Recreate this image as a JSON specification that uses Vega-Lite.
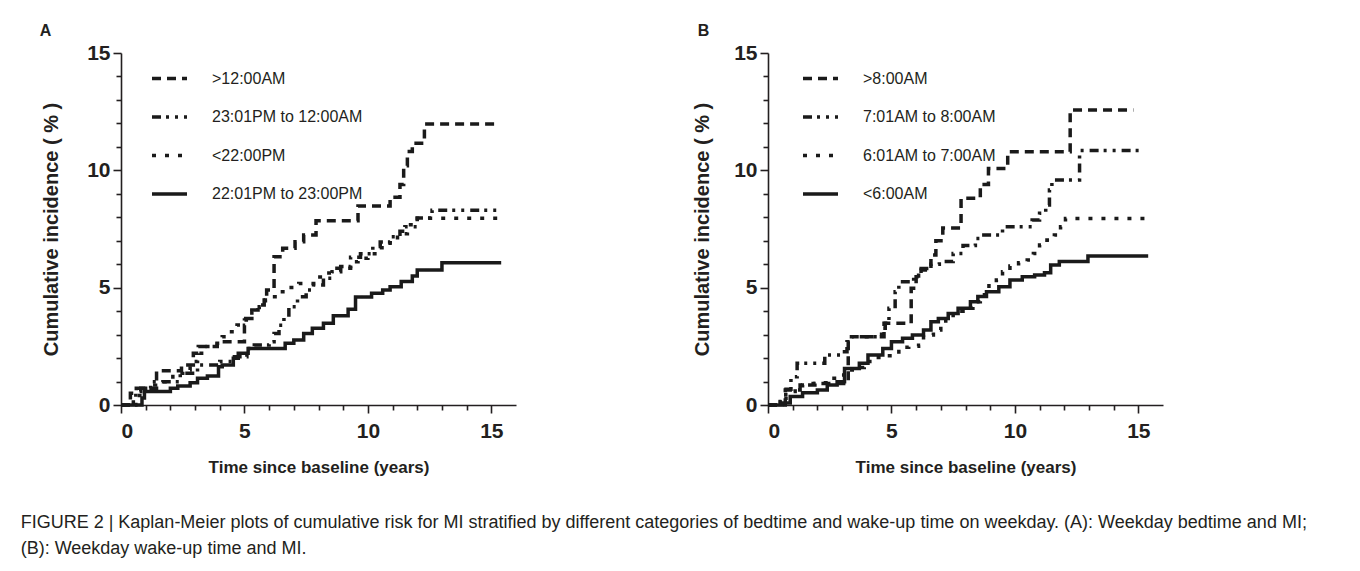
{
  "$schema": "https://vega.github.io/schema/vega-lite/v6.json",
  "background": "white",
  "padding": {"left": 20, "top": 22, "right": 0, "bottom": 0},
  "config": {
    "font": "Liberation Sans",
    "view": {"stroke": null},
    "axis": {
      "grid": false,
      "domainColor": "#231f20", "domainWidth": 1.6,
      "tickColor": "#231f20", "tickWidth": 1.6,
      "labelColor": "#231f20", "titleColor": "#231f20",
      "labelFont": "Liberation Sans", "labelFontWeight": "bold", "labelFontSize": 21,
      "titleFont": "Liberation Sans", "titleFontWeight": "bold", "titleFontSize": 17
    },
    "legend": {
      "orient": "none", "legendX": 29, "legendY": 6, "title": null,
      "symbolType": "stroke", "symbolSize": 1225, "symbolStrokeWidth": 3.5,
      "symbolStrokeColor": "#1a1a1a", "symbolOffset": 0,
      "labelFont": "Liberation Sans", "labelFontSize": 16, "labelColor": "#231f20",
      "labelOffset": 23, "rowPadding": 10.5, "padding": 0
    }
  },
  "title": {
    "text": [
      "FIGURE 2 | Kaplan-Meier plots of cumulative risk for MI stratified by different categories of bedtime and wake-up time on weekday. (A): Weekday bedtime and MI;",
      "(B): Weekday wake-up time and MI."
    ],
    "orient": "bottom", "anchor": "start", "frame": "bounds", "dx": -19, "offset": 39,
    "font": "Liberation Sans", "fontSize": 18, "fontWeight": "normal", "lineHeight": 26, "color": "#231f20"
  },
  "datasets": {
    "A": [
      {"g": ">12:00AM", "t": 0, "v": 0}, {"g": ">12:00AM", "t": 0.38, "v": 0.5}, {"g": ">12:00AM", "t": 0.62, "v": 0.71}, {"g": ">12:00AM", "t": 1.44, "v": 1.46}, {"g": ">12:00AM", "t": 2.45, "v": 1.7}, {"g": ">12:00AM", "t": 2.93, "v": 2.2}, {"g": ">12:00AM", "t": 3.13, "v": 2.49}, {"g": ">12:00AM", "t": 3.9, "v": 2.7}, {"g": ">12:00AM", "t": 5.0, "v": 3.4}, {"g": ">12:00AM", "t": 5.05, "v": 3.69}, {"g": ">12:00AM", "t": 5.3, "v": 4.05}, {"g": ">12:00AM", "t": 5.55, "v": 4.26}, {"g": ">12:00AM", "t": 5.8, "v": 4.47}, {"g": ">12:00AM", "t": 5.9, "v": 4.9}, {"g": ">12:00AM", "t": 6.2, "v": 6.32}, {"g": ">12:00AM", "t": 6.55, "v": 6.68}, {"g": ">12:00AM", "t": 7.05, "v": 6.96}, {"g": ">12:00AM", "t": 7.4, "v": 7.24}, {"g": ">12:00AM", "t": 7.9, "v": 7.85}, {"g": ">12:00AM", "t": 9.6, "v": 8.48}, {"g": ">12:00AM", "t": 10.9, "v": 8.85}, {"g": ">12:00AM", "t": 11.3, "v": 9.4}, {"g": ">12:00AM", "t": 11.45, "v": 10.2}, {"g": ">12:00AM", "t": 11.6, "v": 10.8}, {"g": ">12:00AM", "t": 11.8, "v": 11.15}, {"g": ">12:00AM", "t": 12.29, "v": 11.97}, {"g": ">12:00AM", "t": 15.25, "v": 11.97},
      {"g": "23:01PM to 12:00AM", "t": 0, "v": 0}, {"g": "23:01PM to 12:00AM", "t": 0.6, "v": 0.57}, {"g": "23:01PM to 12:00AM", "t": 0.8, "v": 0.71}, {"g": "23:01PM to 12:00AM", "t": 1.2, "v": 0.99}, {"g": "23:01PM to 12:00AM", "t": 2.4, "v": 1.35}, {"g": "23:01PM to 12:00AM", "t": 3.1, "v": 1.7}, {"g": "23:01PM to 12:00AM", "t": 4.0, "v": 1.85}, {"g": "23:01PM to 12:00AM", "t": 4.5, "v": 2.06}, {"g": "23:01PM to 12:00AM", "t": 5.1, "v": 2.41}, {"g": "23:01PM to 12:00AM", "t": 5.4, "v": 2.56}, {"g": "23:01PM to 12:00AM", "t": 6.0, "v": 2.7}, {"g": "23:01PM to 12:00AM", "t": 6.2, "v": 3.05}, {"g": "23:01PM to 12:00AM", "t": 6.4, "v": 3.4}, {"g": "23:01PM to 12:00AM", "t": 6.6, "v": 3.83}, {"g": "23:01PM to 12:00AM", "t": 6.8, "v": 4.19}, {"g": "23:01PM to 12:00AM", "t": 7.15, "v": 4.61}, {"g": "23:01PM to 12:00AM", "t": 7.5, "v": 4.9}, {"g": "23:01PM to 12:00AM", "t": 7.8, "v": 5.11}, {"g": "23:01PM to 12:00AM", "t": 8.2, "v": 5.4}, {"g": "23:01PM to 12:00AM", "t": 8.55, "v": 5.68}, {"g": "23:01PM to 12:00AM", "t": 8.9, "v": 5.9}, {"g": "23:01PM to 12:00AM", "t": 9.3, "v": 6.3}, {"g": "23:01PM to 12:00AM", "t": 9.7, "v": 6.45}, {"g": "23:01PM to 12:00AM", "t": 10.2, "v": 6.75}, {"g": "23:01PM to 12:00AM", "t": 10.5, "v": 6.95}, {"g": "23:01PM to 12:00AM", "t": 10.9, "v": 7.17}, {"g": "23:01PM to 12:00AM", "t": 11.3, "v": 7.4}, {"g": "23:01PM to 12:00AM", "t": 11.5, "v": 7.6}, {"g": "23:01PM to 12:00AM", "t": 12.0, "v": 7.97}, {"g": "23:01PM to 12:00AM", "t": 12.6, "v": 8.3}, {"g": "23:01PM to 12:00AM", "t": 15.4, "v": 8.3},
      {"g": "<22:00PM", "t": 0, "v": 0}, {"g": "<22:00PM", "t": 0.5, "v": 0.4}, {"g": "<22:00PM", "t": 0.85, "v": 0.71}, {"g": "<22:00PM", "t": 1.1, "v": 0.85}, {"g": "<22:00PM", "t": 1.4, "v": 0.92}, {"g": "<22:00PM", "t": 1.7, "v": 0.99}, {"g": "<22:00PM", "t": 2.1, "v": 1.35}, {"g": "<22:00PM", "t": 2.5, "v": 1.49}, {"g": "<22:00PM", "t": 2.8, "v": 1.85}, {"g": "<22:00PM", "t": 3.1, "v": 2.2}, {"g": "<22:00PM", "t": 3.4, "v": 2.49}, {"g": "<22:00PM", "t": 3.8, "v": 2.63}, {"g": "<22:00PM", "t": 4.1, "v": 2.91}, {"g": "<22:00PM", "t": 4.4, "v": 3.12}, {"g": "<22:00PM", "t": 4.7, "v": 3.41}, {"g": "<22:00PM", "t": 5.0, "v": 3.62}, {"g": "<22:00PM", "t": 5.3, "v": 3.98}, {"g": "<22:00PM", "t": 5.6, "v": 4.19}, {"g": "<22:00PM", "t": 5.85, "v": 4.47}, {"g": "<22:00PM", "t": 6.1, "v": 4.61}, {"g": "<22:00PM", "t": 6.4, "v": 4.83}, {"g": "<22:00PM", "t": 6.8, "v": 5.01}, {"g": "<22:00PM", "t": 7.2, "v": 5.18}, {"g": "<22:00PM", "t": 7.9, "v": 5.45}, {"g": "<22:00PM", "t": 8.3, "v": 5.62}, {"g": "<22:00PM", "t": 8.6, "v": 5.83}, {"g": "<22:00PM", "t": 9.3, "v": 6.1}, {"g": "<22:00PM", "t": 9.6, "v": 6.25}, {"g": "<22:00PM", "t": 10.0, "v": 6.45}, {"g": "<22:00PM", "t": 10.4, "v": 6.7}, {"g": "<22:00PM", "t": 10.9, "v": 7.0}, {"g": "<22:00PM", "t": 11.2, "v": 7.3}, {"g": "<22:00PM", "t": 11.6, "v": 7.68}, {"g": "<22:00PM", "t": 12.0, "v": 7.96}, {"g": "<22:00PM", "t": 15.3, "v": 7.96},
      {"g": "22:01PM to 23:00PM", "t": 0, "v": 0}, {"g": "22:01PM to 23:00PM", "t": 0.85, "v": 0.3}, {"g": "22:01PM to 23:00PM", "t": 0.95, "v": 0.57}, {"g": "22:01PM to 23:00PM", "t": 2.0, "v": 0.71}, {"g": "22:01PM to 23:00PM", "t": 2.3, "v": 0.81}, {"g": "22:01PM to 23:00PM", "t": 2.8, "v": 0.95}, {"g": "22:01PM to 23:00PM", "t": 3.1, "v": 1.14}, {"g": "22:01PM to 23:00PM", "t": 3.5, "v": 1.24}, {"g": "22:01PM to 23:00PM", "t": 3.95, "v": 1.63}, {"g": "22:01PM to 23:00PM", "t": 4.1, "v": 1.7}, {"g": "22:01PM to 23:00PM", "t": 4.55, "v": 1.99}, {"g": "22:01PM to 23:00PM", "t": 4.75, "v": 2.2}, {"g": "22:01PM to 23:00PM", "t": 5.15, "v": 2.41}, {"g": "22:01PM to 23:00PM", "t": 6.65, "v": 2.63}, {"g": "22:01PM to 23:00PM", "t": 7.0, "v": 2.77}, {"g": "22:01PM to 23:00PM", "t": 7.4, "v": 3.05}, {"g": "22:01PM to 23:00PM", "t": 7.75, "v": 3.27}, {"g": "22:01PM to 23:00PM", "t": 8.2, "v": 3.48}, {"g": "22:01PM to 23:00PM", "t": 8.6, "v": 3.8}, {"g": "22:01PM to 23:00PM", "t": 9.2, "v": 4.08}, {"g": "22:01PM to 23:00PM", "t": 9.5, "v": 4.6}, {"g": "22:01PM to 23:00PM", "t": 10.15, "v": 4.76}, {"g": "22:01PM to 23:00PM", "t": 10.6, "v": 4.9}, {"g": "22:01PM to 23:00PM", "t": 10.9, "v": 5.04}, {"g": "22:01PM to 23:00PM", "t": 11.35, "v": 5.26}, {"g": "22:01PM to 23:00PM", "t": 11.8, "v": 5.5}, {"g": "22:01PM to 23:00PM", "t": 12.0, "v": 5.75}, {"g": "22:01PM to 23:00PM", "t": 13.0, "v": 6.06}, {"g": "22:01PM to 23:00PM", "t": 15.4, "v": 6.06}
    ],
    "B": [
      {"g": ">8:00AM", "t": 0, "v": 0}, {"g": ">8:00AM", "t": 0.7, "v": 0.64}, {"g": ">8:00AM", "t": 1.3, "v": 0.85}, {"g": ">8:00AM", "t": 1.9, "v": 0.92}, {"g": ">8:00AM", "t": 3.25, "v": 2.91}, {"g": ">8:00AM", "t": 4.7, "v": 3.48}, {"g": ">8:00AM", "t": 5.8, "v": 4.97}, {"g": ">8:00AM", "t": 6.0, "v": 5.47}, {"g": ">8:00AM", "t": 6.2, "v": 5.75}, {"g": ">8:00AM", "t": 6.6, "v": 6.39}, {"g": ">8:00AM", "t": 6.8, "v": 7.0}, {"g": ">8:00AM", "t": 7.08, "v": 7.54}, {"g": ">8:00AM", "t": 7.82, "v": 8.81}, {"g": ">8:00AM", "t": 8.6, "v": 9.4}, {"g": ">8:00AM", "t": 8.93, "v": 10.08}, {"g": ">8:00AM", "t": 9.71, "v": 10.79}, {"g": ">8:00AM", "t": 12.24, "v": 12.57}, {"g": ">8:00AM", "t": 14.8, "v": 12.57},
      {"g": "7:01AM to 8:00AM", "t": 0, "v": 0}, {"g": "7:01AM to 8:00AM", "t": 0.4, "v": 0.15}, {"g": "7:01AM to 8:00AM", "t": 0.73, "v": 0.67}, {"g": "7:01AM to 8:00AM", "t": 0.93, "v": 1.2}, {"g": "7:01AM to 8:00AM", "t": 1.18, "v": 1.78}, {"g": "7:01AM to 8:00AM", "t": 2.3, "v": 2.13}, {"g": "7:01AM to 8:00AM", "t": 2.95, "v": 2.27}, {"g": "7:01AM to 8:00AM", "t": 3.2, "v": 2.7}, {"g": "7:01AM to 8:00AM", "t": 3.4, "v": 2.91}, {"g": "7:01AM to 8:00AM", "t": 4.6, "v": 3.27}, {"g": "7:01AM to 8:00AM", "t": 4.75, "v": 3.48}, {"g": "7:01AM to 8:00AM", "t": 4.9, "v": 4.12}, {"g": "7:01AM to 8:00AM", "t": 5.15, "v": 4.83}, {"g": "7:01AM to 8:00AM", "t": 5.3, "v": 5.25}, {"g": "7:01AM to 8:00AM", "t": 5.9, "v": 5.5}, {"g": "7:01AM to 8:00AM", "t": 6.1, "v": 5.82}, {"g": "7:01AM to 8:00AM", "t": 6.6, "v": 6.0}, {"g": "7:01AM to 8:00AM", "t": 6.94, "v": 6.11}, {"g": "7:01AM to 8:00AM", "t": 7.5, "v": 6.46}, {"g": "7:01AM to 8:00AM", "t": 7.9, "v": 6.8}, {"g": "7:01AM to 8:00AM", "t": 8.4, "v": 7.1}, {"g": "7:01AM to 8:00AM", "t": 8.6, "v": 7.24}, {"g": "7:01AM to 8:00AM", "t": 9.5, "v": 7.6}, {"g": "7:01AM to 8:00AM", "t": 10.7, "v": 7.88}, {"g": "7:01AM to 8:00AM", "t": 11.0, "v": 8.17}, {"g": "7:01AM to 8:00AM", "t": 11.25, "v": 8.52}, {"g": "7:01AM to 8:00AM", "t": 11.4, "v": 9.16}, {"g": "7:01AM to 8:00AM", "t": 11.5, "v": 9.59}, {"g": "7:01AM to 8:00AM", "t": 12.62, "v": 10.84}, {"g": "7:01AM to 8:00AM", "t": 15.2, "v": 10.84},
      {"g": "6:01AM to 7:00AM", "t": 0, "v": 0}, {"g": "6:01AM to 7:00AM", "t": 0.5, "v": 0.21}, {"g": "6:01AM to 7:00AM", "t": 0.72, "v": 0.57}, {"g": "6:01AM to 7:00AM", "t": 1.1, "v": 0.71}, {"g": "6:01AM to 7:00AM", "t": 1.4, "v": 0.85}, {"g": "6:01AM to 7:00AM", "t": 1.7, "v": 0.92}, {"g": "6:01AM to 7:00AM", "t": 2.1, "v": 0.95}, {"g": "6:01AM to 7:00AM", "t": 2.5, "v": 1.14}, {"g": "6:01AM to 7:00AM", "t": 2.9, "v": 1.28}, {"g": "6:01AM to 7:00AM", "t": 3.2, "v": 1.49}, {"g": "6:01AM to 7:00AM", "t": 3.6, "v": 1.6}, {"g": "6:01AM to 7:00AM", "t": 3.9, "v": 1.85}, {"g": "6:01AM to 7:00AM", "t": 4.2, "v": 2.02}, {"g": "6:01AM to 7:00AM", "t": 4.6, "v": 2.1}, {"g": "6:01AM to 7:00AM", "t": 5.3, "v": 2.46}, {"g": "6:01AM to 7:00AM", "t": 5.7, "v": 2.5}, {"g": "6:01AM to 7:00AM", "t": 6.1, "v": 2.55}, {"g": "6:01AM to 7:00AM", "t": 6.3, "v": 2.98}, {"g": "6:01AM to 7:00AM", "t": 6.7, "v": 3.2}, {"g": "6:01AM to 7:00AM", "t": 7.0, "v": 3.37}, {"g": "6:01AM to 7:00AM", "t": 7.2, "v": 3.69}, {"g": "6:01AM to 7:00AM", "t": 7.5, "v": 4.0}, {"g": "6:01AM to 7:00AM", "t": 7.9, "v": 4.12}, {"g": "6:01AM to 7:00AM", "t": 8.3, "v": 4.4}, {"g": "6:01AM to 7:00AM", "t": 8.6, "v": 4.7}, {"g": "6:01AM to 7:00AM", "t": 8.8, "v": 4.9}, {"g": "6:01AM to 7:00AM", "t": 8.95, "v": 5.16}, {"g": "6:01AM to 7:00AM", "t": 9.25, "v": 5.33}, {"g": "6:01AM to 7:00AM", "t": 9.5, "v": 5.68}, {"g": "6:01AM to 7:00AM", "t": 9.8, "v": 5.92}, {"g": "6:01AM to 7:00AM", "t": 10.15, "v": 6.06}, {"g": "6:01AM to 7:00AM", "t": 10.5, "v": 6.18}, {"g": "6:01AM to 7:00AM", "t": 10.75, "v": 6.46}, {"g": "6:01AM to 7:00AM", "t": 11.0, "v": 6.82}, {"g": "6:01AM to 7:00AM", "t": 11.3, "v": 7.03}, {"g": "6:01AM to 7:00AM", "t": 11.6, "v": 7.24}, {"g": "6:01AM to 7:00AM", "t": 11.85, "v": 7.6}, {"g": "6:01AM to 7:00AM", "t": 12.05, "v": 7.95}, {"g": "6:01AM to 7:00AM", "t": 15.3, "v": 7.95},
      {"g": "<6:00AM", "t": 0, "v": 0}, {"g": "<6:00AM", "t": 0.55, "v": 0.08}, {"g": "<6:00AM", "t": 0.9, "v": 0.36}, {"g": "<6:00AM", "t": 1.4, "v": 0.52}, {"g": "<6:00AM", "t": 2.0, "v": 0.64}, {"g": "<6:00AM", "t": 2.4, "v": 0.85}, {"g": "<6:00AM", "t": 2.8, "v": 0.99}, {"g": "<6:00AM", "t": 3.1, "v": 1.56}, {"g": "<6:00AM", "t": 3.7, "v": 1.78}, {"g": "<6:00AM", "t": 4.05, "v": 2.13}, {"g": "<6:00AM", "t": 4.65, "v": 2.41}, {"g": "<6:00AM", "t": 5.0, "v": 2.7}, {"g": "<6:00AM", "t": 5.45, "v": 2.84}, {"g": "<6:00AM", "t": 5.85, "v": 2.98}, {"g": "<6:00AM", "t": 6.3, "v": 3.2}, {"g": "<6:00AM", "t": 6.6, "v": 3.55}, {"g": "<6:00AM", "t": 6.9, "v": 3.69}, {"g": "<6:00AM", "t": 7.3, "v": 3.9}, {"g": "<6:00AM", "t": 7.7, "v": 4.12}, {"g": "<6:00AM", "t": 8.2, "v": 4.4}, {"g": "<6:00AM", "t": 8.5, "v": 4.62}, {"g": "<6:00AM", "t": 8.85, "v": 4.83}, {"g": "<6:00AM", "t": 9.35, "v": 5.04}, {"g": "<6:00AM", "t": 9.8, "v": 5.33}, {"g": "<6:00AM", "t": 10.3, "v": 5.47}, {"g": "<6:00AM", "t": 10.8, "v": 5.54}, {"g": "<6:00AM", "t": 11.2, "v": 5.64}, {"g": "<6:00AM", "t": 11.45, "v": 5.97}, {"g": "<6:00AM", "t": 11.8, "v": 6.11}, {"g": "<6:00AM", "t": 12.96, "v": 6.35}, {"g": "<6:00AM", "t": 15.4, "v": 6.35}
    ]
  },
  "hconcat": [
    {
      "width": 395, "height": 352,
      "title": {"text": "A", "anchor": "start", "frame": "bounds", "dx": -2, "offset": -9.5, "baseline": "alphabetic", "font": "Liberation Sans", "fontSize": 16, "fontWeight": "bold", "color": "#231f20"},
      "data": {"name": "A"},
      "resolve": {"axis": {"x": "independent", "y": "independent"}},
      "layer": [
        {
          "mark": {"type": "line", "interpolate": "step-after", "strokeWidth": 3.5, "color": "#1a1a1a", "strokeCap": "butt"},
          "encoding": {
            "x": {"field": "t", "type": "quantitative", "scale": {"domain": [0, 16], "nice": false, "zero": true},
                  "axis": {"orient": "bottom", "values": [0, 5, 10, 15], "tickSize": 8, "labelPadding": 7, "title": "Time since baseline (years)", "titlePadding": 18}},
            "y": {"field": "v", "type": "quantitative", "scale": {"domain": [0, 15], "nice": false},
                  "axis": {"orient": "left", "values": [0, 5, 10, 15], "tickSize": 8, "labelPadding": 3, "title": "Cumulative incidence ( % )", "titleFontSize": 20, "titlePadding": 25}},
            "strokeDash": {"field": "g", "type": "nominal",
                  "scale": {"domain": [">12:00AM", "23:01PM to 12:00AM", "<22:00PM", "22:01PM to 23:00PM"], "range": [[9, 6], [9, 5, 3, 6, 3, 6], [4, 9], [1, 0]]}}
          }
        },
        {
          "mark": {"type": "point", "opacity": 0},
          "encoding": {
            "x": {"field": "t", "type": "quantitative", "axis": {"orient": "bottom", "values": [1, 2, 3, 4, 6, 7, 8, 9, 11, 12, 13, 14], "tickSize": 5, "labels": false, "domain": false, "title": null}},
            "y": {"field": "v", "type": "quantitative", "axis": {"orient": "left", "values": [1, 2, 3, 4, 6, 7, 8, 9, 11, 12, 13, 14], "tickSize": 5, "labels": false, "domain": false, "title": null}}
          }
        }
      ]
    },
    {
      "width": 395, "height": 352,
      "title": {"text": "B", "anchor": "start", "frame": "bounds", "dx": 5, "offset": -9.5, "baseline": "alphabetic", "font": "Liberation Sans", "fontSize": 16, "fontWeight": "bold", "color": "#231f20"},
      "data": {"name": "B"},
      "resolve": {"axis": {"x": "independent", "y": "independent"}},
      "layer": [
        {
          "mark": {"type": "line", "interpolate": "step-after", "strokeWidth": 3.5, "color": "#1a1a1a", "strokeCap": "butt"},
          "encoding": {
            "x": {"field": "t", "type": "quantitative", "scale": {"domain": [0, 16], "nice": false, "zero": true},
                  "axis": {"orient": "bottom", "values": [0, 5, 10, 15], "tickSize": 8, "labelPadding": 7, "title": "Time since baseline (years)", "titlePadding": 18}},
            "y": {"field": "v", "type": "quantitative", "scale": {"domain": [0, 15], "nice": false},
                  "axis": {"orient": "left", "values": [0, 5, 10, 15], "tickSize": 8, "labelPadding": 3, "title": "Cumulative incidence ( % )", "titleFontSize": 20, "titlePadding": 21}},
            "strokeDash": {"field": "g", "type": "nominal",
                  "scale": {"domain": [">8:00AM", "7:01AM to 8:00AM", "6:01AM to 7:00AM", "<6:00AM"], "range": [[9, 6], [9, 5, 3, 6, 3, 6], [4, 9], [1, 0]]},
                  "legend": {"legendX": 33}}
          }
        },
        {
          "mark": {"type": "point", "opacity": 0},
          "encoding": {
            "x": {"field": "t", "type": "quantitative", "axis": {"orient": "bottom", "values": [1, 2, 3, 4, 6, 7, 8, 9, 11, 12, 13, 14], "tickSize": 5, "labels": false, "domain": false, "title": null}},
            "y": {"field": "v", "type": "quantitative", "axis": {"orient": "left", "values": [1, 2, 3, 4, 6, 7, 8, 9, 11, 12, 13, 14], "tickSize": 5, "labels": false, "domain": false, "title": null}}
          }
        }
      ]
    }
  ],
  "spacing": 252,
  "bounds": "flush",
  "resolve": {"scale": {"strokeDash": "independent"}, "legend": {"strokeDash": "independent"}}
}
